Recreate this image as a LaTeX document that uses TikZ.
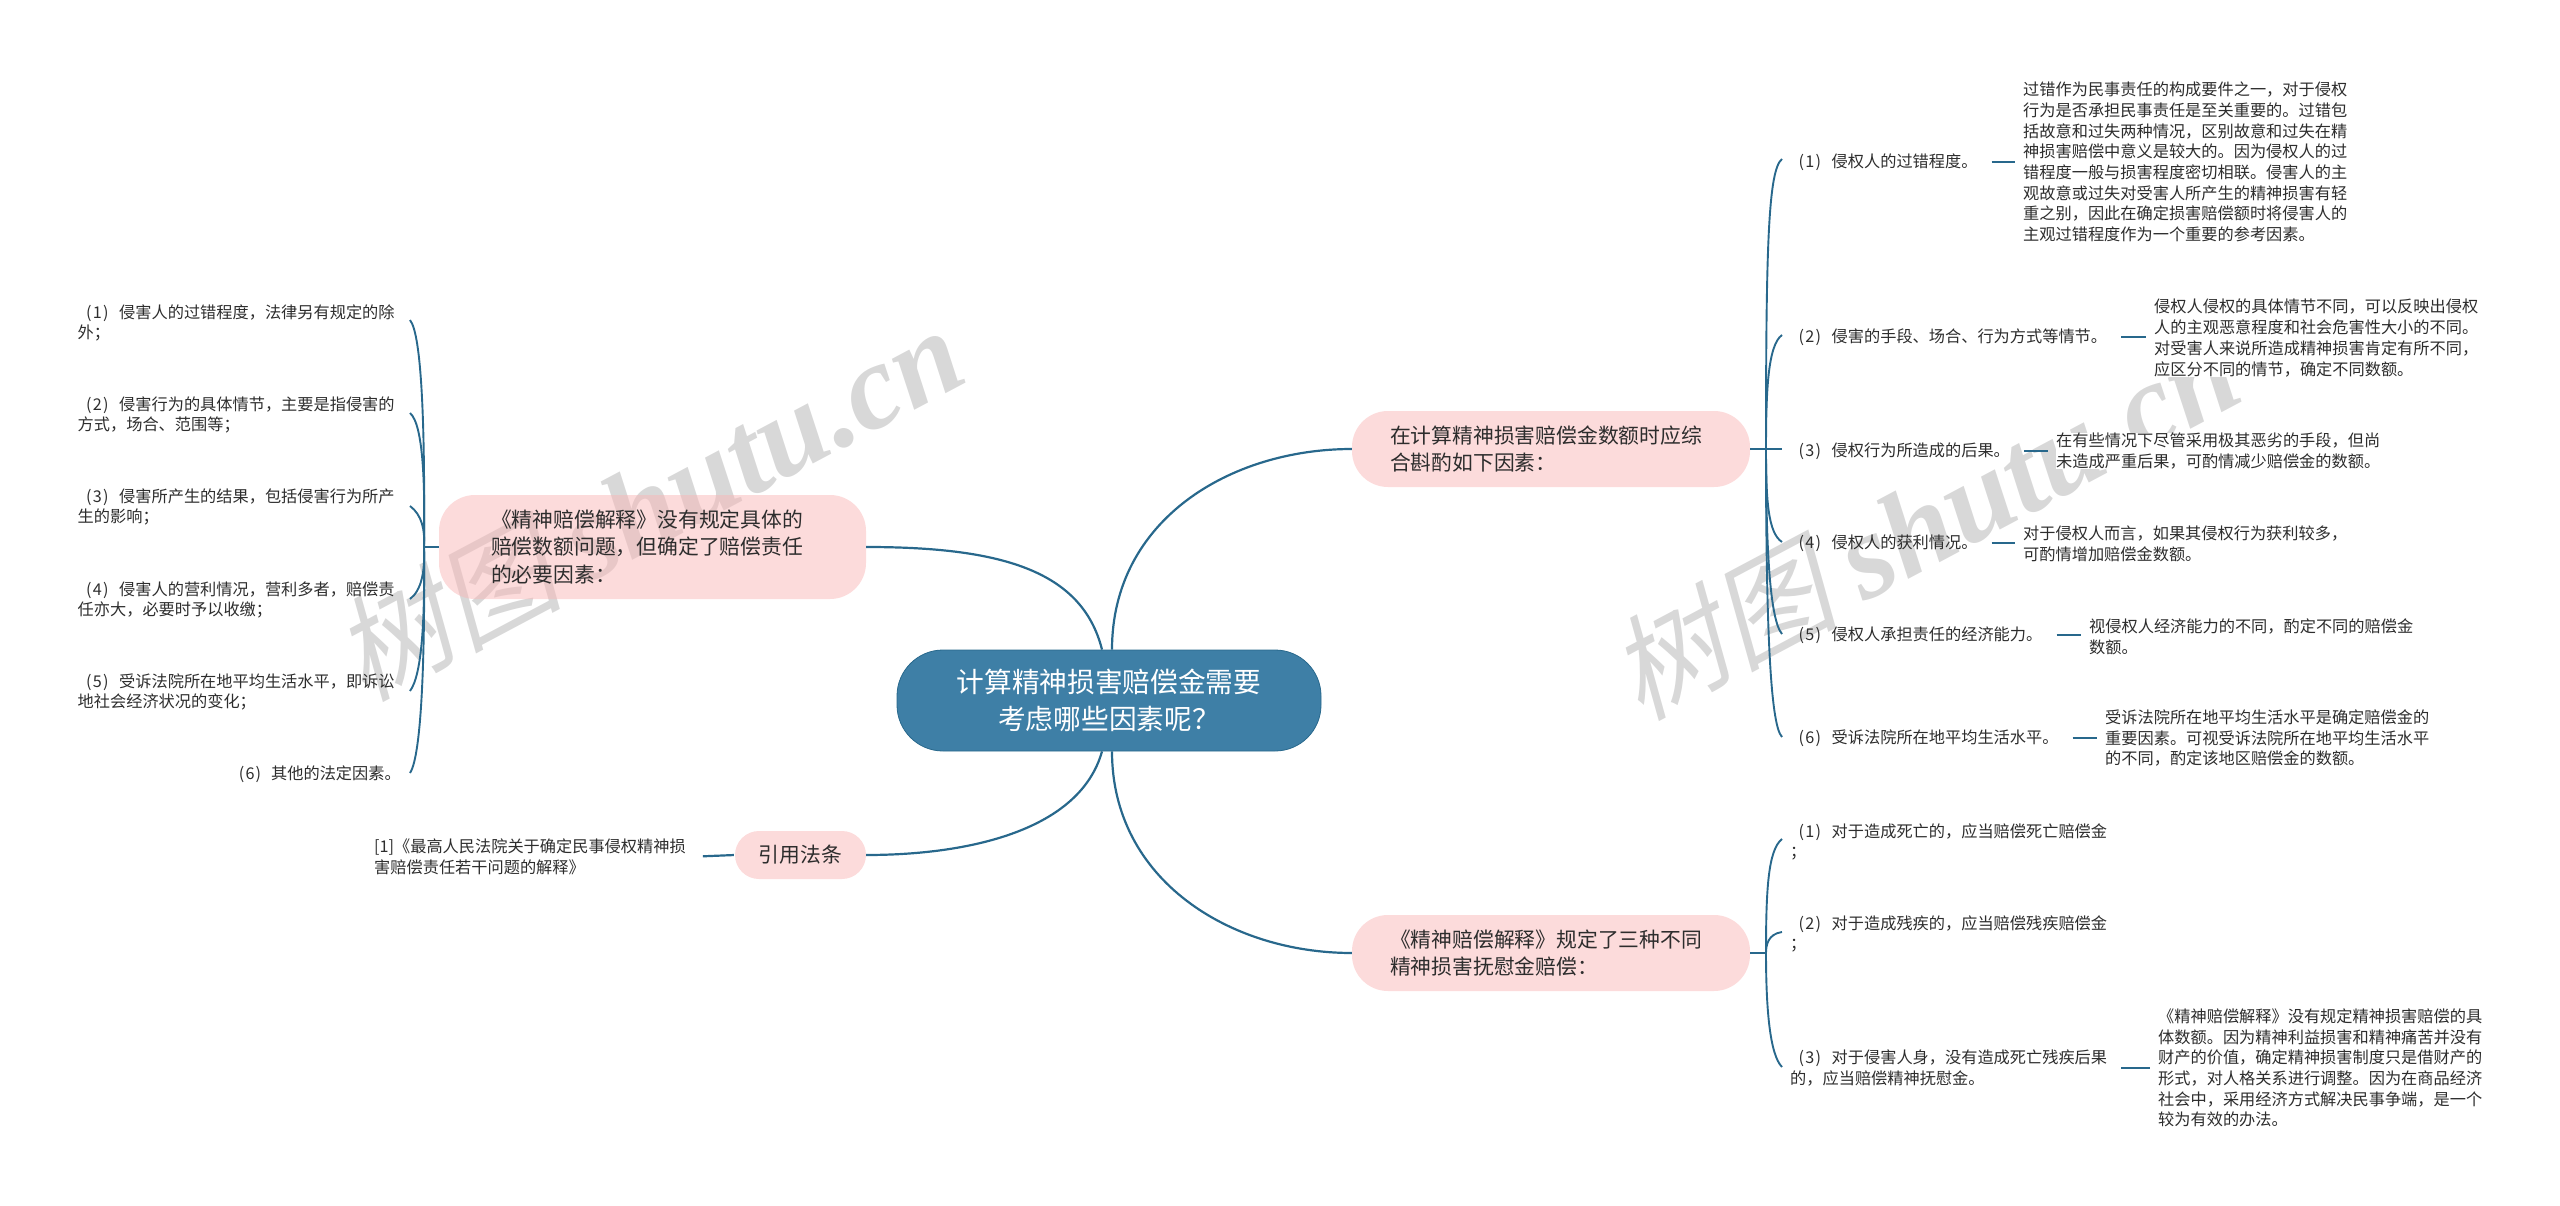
\documentclass[tikz,border=0pt]{standalone}
\usepackage{fontspec}
\setmainfont{Noto Sans CJK SC}
\newfontfamily\wmcjk[FakeSlant=0.22]{Noto Sans CJK SC}
\newfontfamily\wmlatin{Liberation Serif}
\usetikzlibrary{positioning}
\definecolor{rootblue}{RGB}{62,127,166}
\definecolor{linkblue}{RGB}{40,104,140}
\definecolor{pillpink}{RGB}{249,183,183}
\definecolor{inkgray}{RGB}{45,45,45}
\definecolor{markgray}{RGB}{216,216,216}
\newcommand{\numbered}[1]{\hspace*{8.5pt}\makebox[33pt][l]{(\kern1.2pt#1\kern1.2pt)}}
\newcommand{\stamptext}{{\wmcjk 树图} {\wmlatin\bfseries\itshape\fontsize{121}{121}\selectfont shutu.cn}}

\begin{document}
\begin{tikzpicture}[
x=1pt,y=-1pt,
centrebox/.style={fill=rootblue,draw=linkblue,line width=.8pt,rounded corners=46pt,minimum width=424pt,minimum height=101pt,align=center,text=white,font=\fontsize{27.7}{36.5}\selectfont},
pill/.style={fill=pillpink,fill opacity=.5,text opacity=1,rounded corners=36pt,inner ysep=0pt,text=inkgray,font=\fontsize{20.8}{27.7}\selectfont},
leaf/.style={inner sep=0pt,align=left,text=inkgray,font=\fontsize{16.2}{20.7}\selectfont},
detail/.style={leaf,fill=white,anchor=west},
stamp/.style={text=markgray,rotate=28,font=\fontsize{114}{114}\selectfont},
mainlink/.style={draw=linkblue,line width=2.2pt},
hook/.style={draw=linkblue,line width=1.9pt},
stub/.style={draw=linkblue,line width=2.6pt,shorten <=14pt,shorten >=8pt}]
    \useasboundingbox (0,0) rectangle (2560,1206);

    % Watermarks
    \node[stamp] (markl) at (648,503) {\stamptext};
    \node[stamp] (markr) at (1924,522) {\stamptext};

    % Centre and branches
    \node[centrebox] (centre) at (1109,700.5) {计算精神损害赔偿金需要\\考虑哪些因素呢？};
    \node[pill,text width=323pt,inner xsep=52pt,minimum height=104pt,align=left] (lbranch) at (652.5,547) {《精神赔偿解释》没有规定具体的\\赔偿数额问题，但确定了赔偿责任\\的必要因素：};
    \node[pill,text width=322pt,inner xsep=38pt,minimum height=76pt,align=left] (rbranch) at (1551,449) {在计算精神损害赔偿金数额时应综\\合斟酌如下因素：};
    \node[pill,text width=322pt,inner xsep=38pt,minimum height=76pt,align=left] (sbranch) at (1551,953) {《精神赔偿解释》规定了三种不同\\精神损害抚慰金赔偿：};
    \node[pill,rounded corners=24pt,minimum width=131pt,minimum height=48pt,align=center] (cite) at (800.5,855) {引用法条};

    \draw[mainlink] ([xshift=-7pt]centre.north) .. controls (1082,570) and (1000,547) .. (lbranch.east);
    \draw[mainlink] ([xshift=3pt]centre.north) .. controls (1112,520) and (1230,449) .. (rbranch.west);
    \draw[mainlink] ([xshift=-7pt]centre.south) .. controls (1080,830) and (970,855) .. (cite.east);
    \draw[mainlink] ([xshift=3pt]centre.south) .. controls (1112,880) and (1230,953) .. (sbranch.west);

    % Left side
    \node[leaf,anchor=west] (la) at (77.5,323) {\numbered{1}侵害人的过错程度，法律另有规定的除\\外；};
    \node[leaf,anchor=west] (lb) at (77.5,415) {\numbered{2}侵害行为的具体情节，主要是指侵害的\\方式，场合、范围等；};
    \node[leaf,anchor=west] (lc) at (77.5,507) {\numbered{3}侵害所产生的结果，包括侵害行为所产\\生的影响；};
    \node[leaf,anchor=west] (ld) at (77.5,600) {\numbered{4}侵害人的营利情况，营利多者，赔偿责\\任亦大，必要时予以收缴；};
    \node[leaf,anchor=west] (le) at (77.5,692) {\numbered{5}受诉法院所在地平均生活水平，即诉讼\\地社会经济状况的变化；};
    \node[leaf,anchor=east] (lf) at (401,774) {(\kern1.2pt6\kern1.2pt)\hspace{10pt}其他的法定因素。};
    \coordinate (lspine) at (424,547);
    \coordinate (lhooka) at (410,320);
    \coordinate (lhookb) at (410,413);
    \coordinate (lhookc) at (410,506);
    \coordinate (lhookd) at (410,599);
    \coordinate (lhooke) at (410,691);
    \coordinate (lhookf) at (410,773);
    \draw[mainlink] (lbranch.west) -- (lspine);
    \draw[hook] (lspine) .. controls (425,430) and (422,335) .. (lhooka);
    \draw[hook] (lspine) .. controls (425,490) and (424,425) .. (lhookb);
    \draw[hook] (lspine) .. controls (425,530) and (422,515) .. (lhookc);
    \draw[hook] (lspine) .. controls (425,570) and (422,590) .. (lhookd);
    \draw[hook] (lspine) .. controls (425,620) and (422,675) .. (lhooke);
    \draw[hook] (lspine) .. controls (425,650) and (422,755) .. (lhookf);

    % Citation
    \node[leaf,anchor=west] (cited) at (374,857) {[1]《最高人民法院关于确定民事侵权精神损\\害赔偿责任若干问题的解释》};
    \draw[mainlink,shorten >=1pt,shorten <=17pt] (cited.east) -- (cite.west);

    % Right side, upper branch
    \node[leaf,anchor=west] (ra) at (1790,162) {\numbered{1}侵权人的过错程度。};
    \node[leaf,anchor=west] (rb) at (1790,337) {\numbered{2}侵害的手段、场合、行为方式等情节。};
    \node[leaf,anchor=west] (rc) at (1790,451) {\numbered{3}侵权行为所造成的后果。};
    \node[leaf,anchor=west] (rd) at (1790,543) {\numbered{4}侵权人的获利情况。};
    \node[leaf,anchor=west] (re) at (1790,635) {\numbered{5}侵权人承担责任的经济能力。};
    \node[leaf,anchor=west] (rf) at (1790,738) {\numbered{6}受诉法院所在地平均生活水平。};

    \node[detail] (rad) at (2023,162) {过错作为民事责任的构成要件之一，对于侵权\\行为是否承担民事责任是至关重要的。过错包\\括故意和过失两种情况，区别故意和过失在精\\神损害赔偿中意义是较大的。因为侵权人的过\\错程度一般与损害程度密切相联。侵害人的主\\观故意或过失对受害人所产生的精神损害有轻\\重之别，因此在确定损害赔偿额时将侵害人的\\主观过错程度作为一个重要的参考因素。};
    \node[detail] (rbd) at (2154,338) {侵权人侵权的具体情节不同，可以反映出侵权\\人的主观恶意程度和社会危害性大小的不同。\\对受害人来说所造成精神损害肯定有所不同，\\应区分不同的情节，确定不同数额。};
    \node[detail] (rcd) at (2056,451) {在有些情况下尽管采用极其恶劣的手段，但尚\\未造成严重后果，可酌情减少赔偿金的数额。};
    \node[detail] (rdd) at (2023,544) {对于侵权人而言，如果其侵权行为获利较多，\\可酌情增加赔偿金数额。};
    \node[detail] (red) at (2089,637) {视侵权人经济能力的不同，酌定不同的赔偿金\\数额。};
    \node[detail] (rfd) at (2105,738) {受诉法院所在地平均生活水平是确定赔偿金的\\重要因素。可视受诉法院所在地平均生活水平\\的不同，酌定该地区赔偿金的数额。};

    \coordinate (rspine) at (1766,449);
    \coordinate (rhooka) at (1782,159);
    \coordinate (rhookb) at (1782,335);
    \coordinate (rhookc) at (1782,449);
    \coordinate (rhookd) at (1782,542);
    \coordinate (rhooke) at (1782,634);
    \coordinate (rhookf) at (1782,737);
    \draw[mainlink,line width=2.6pt] (rbranch.east) -- (rhookc);
    \draw[hook] (rspine) .. controls (1766,250) and (1768,170) .. (rhooka);
    \draw[hook] (rspine) .. controls (1766,390) and (1768,345) .. (rhookb);
    \draw[hook] (rspine) .. controls (1766,500) and (1768,533) .. (rhookd);
    \draw[hook] (rspine) .. controls (1766,550) and (1770,620) .. (rhooke);
    \draw[hook] (rspine) .. controls (1766,620) and (1770,725) .. (rhookf);

    \draw[stub] (ra.east) -- (ra.east -| rad.west);
    \draw[stub] (rb.east) -- (rb.east -| rbd.west);
    \draw[stub] (rc.east) -- (rc.east -| rcd.west);
    \draw[stub] (rd.east) -- (rd.east -| rdd.west);
    \draw[stub] (re.east) -- (re.east -| red.west);
    \draw[stub] (rf.east) -- (rf.east -| rfd.west);

    % Right side, lower branch
    \node[leaf,anchor=west] (sa) at (1790,842) {\numbered{1}对于造成死亡的，应当赔偿死亡赔偿金\\；};
    \node[leaf,anchor=west] (sb) at (1790,934) {\numbered{2}对于造成残疾的，应当赔偿残疾赔偿金\\；};
    \node[leaf,anchor=west] (sc) at (1790,1068) {\numbered{3}对于侵害人身，没有造成死亡残疾后果\\的，应当赔偿精神抚慰金。};
    \node[detail] (scd) at (2158,1068) {《精神赔偿解释》没有规定精神损害赔偿的具\\体数额。因为精神利益损害和精神痛苦并没有\\财产的价值，确定精神损害制度只是借财产的\\形式，对人格关系进行调整。因为在商品经济\\社会中，采用经济方式解决民事争端，是一个\\较为有效的办法。};

    \coordinate (sspine) at (1766,953);
    \coordinate (shooka) at (1782,839);
    \coordinate (shookb) at (1782,932);
    \coordinate (shookc) at (1782,1067);
    \draw[mainlink] (sbranch.east) -- (sspine);
    \draw[hook] (sspine) .. controls (1766,890) and (1768,850) .. (shooka);
    \draw[hook] (sspine) .. controls (1766,945) and (1768,934) .. (shookb);
    \draw[hook] (sspine) .. controls (1766,1010) and (1770,1055) .. (shookc);
    \draw[stub] (sc.east) -- (sc.east -| scd.west);
\end{tikzpicture}
\end{document}
